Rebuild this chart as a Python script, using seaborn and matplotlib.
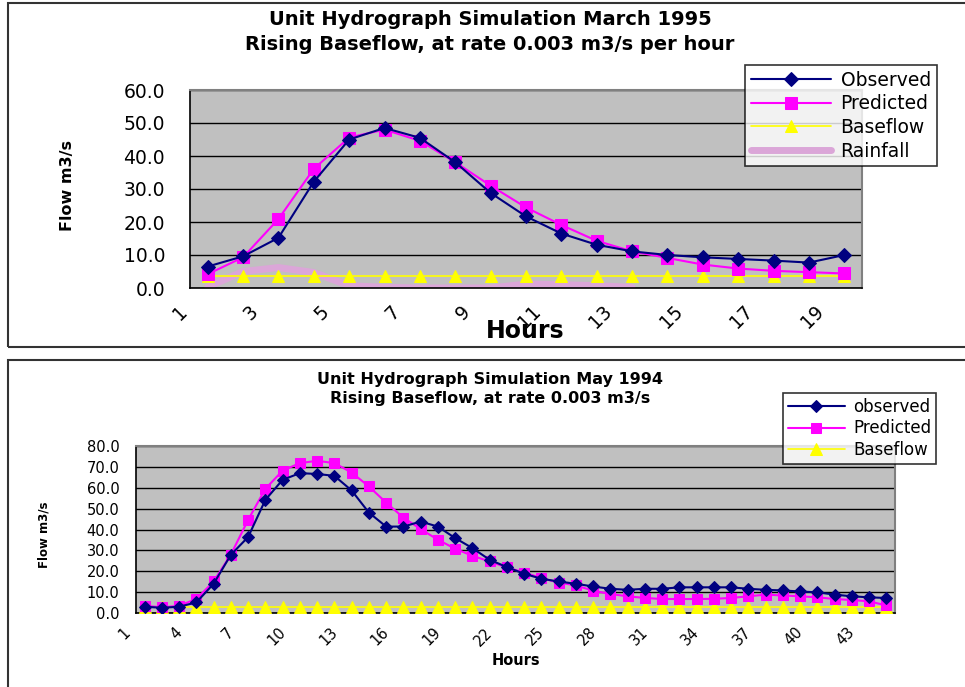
import numpy as np
import pandas as pd
import matplotlib
matplotlib.use("Agg")
import matplotlib.pyplot as plt
import matplotlib.transforms as mtransforms
import seaborn as sns
from matplotlib.patches import Rectangle
from matplotlib.ticker import FixedLocator

# March 1995 data (hours 1-19)
mar_hours = list(range(1, 20))
mar_observed = [6.5, 9.6, 15.2, 32.2, 45.0, 48.5, 45.5, 38.1, 28.8, 21.7,
                16.5, 13.1, 11.1, 10.0, 9.3, 8.8, 8.3, 7.7, 10.0]
mar_predicted = [4.2, 9.3, 20.9, 36.1, 45.6, 48.0, 44.6, 38.1, 31.0, 24.4,
                 19.1, 14.3, 11.1, 9.1, 7.1, 5.9, 5.2, 4.8, 4.4]
mar_baseflow = [3.5, 3.5, 3.5, 3.5, 3.5, 3.5, 3.5, 3.5, 3.5, 3.5,
                3.5, 3.5, 3.5, 3.5, 3.5, 3.5, 3.5, 3.5, 3.5]
mar_rainfall = [0.3, 5.0, 6.2, 4.7, 0.7, 0.2, 0.0, 0.0, 0.0, 1.2,
                1.0, 0.7, 0.2, np.nan, np.nan, np.nan, np.nan, np.nan, np.nan]
mar_xlabels = ["1", "3", "5", "7", "9", "11", "13", "15", "17", "19"]
mar_yticks = [0, 10, 20, 30, 40, 50, 60]

# May 1994 data (hours 1-44)
may_hours = list(range(1, 45))
may_observed = [3.0, 2.5, 3.0, 5.1, 14.0, 27.9, 36.4, 54.2, 63.8, 67.0,
                66.6, 65.7, 58.7, 48.1, 41.4, 41.4, 43.8, 41.4, 35.9, 31.1,
                25.5, 22.0, 18.8, 16.4, 15.1, 14.0, 12.7, 11.6, 11.1, 11.6,
                11.6, 12.3, 12.3, 12.3, 12.3, 11.6, 11.1, 10.8, 10.3, 9.9,
                8.8, 8.0, 7.5, 7.2]
may_predicted = [3.5, 2.7, 3.5, 6.7, 15.1, 28.0, 44.6, 59.5, 68.2, 71.8,
                 72.9, 71.8, 67.3, 60.6, 52.9, 45.7, 40.2, 35.1, 30.8, 27.4,
                 24.7, 21.8, 19.4, 16.7, 14.6, 13.2, 10.7, 9.1, 8.0, 7.2,
                 6.7, 6.7, 6.7, 6.8, 7.2, 8.0, 8.8, 8.4, 8.0, 7.5,
                 6.7, 6.2, 5.6, 3.6]
may_baseflow = [2.9] * 44
may_xlabels = ["1", "4", "7", "10", "13", "16", "19", "22", "25", "28",
               "31", "34", "37", "40", "43"]
may_yticks = [0, 10, 20, 30, 40, 50, 60, 70, 80]

sns.set_style("white")
plt.rcParams["font.family"] = ["DejaVu Sans"]
plt.rcParams["text.color"] = "black"
plt.rcParams["axes.labelcolor"] = "black"
plt.rcParams["xtick.color"] = "black"
plt.rcParams["ytick.color"] = "black"

W, H = 965, 687
fig = plt.figure(figsize=(W / 100, H / 100), dpi=100)


def px_axes(left, top, right, bottom):
    return fig.add_axes([left / W, 1 - bottom / H, (right - left) / W, (bottom - top) / H])


# chart frames
fig.patches.append(Rectangle((8 / W, 1 - 347 / H), 1.0, (347 - 3) / H,
                             transform=fig.transFigure, fill=False,
                             edgecolor="#333333", lw=1.5))
fig.patches.append(Rectangle((8 / W, -0.05), 1.0, 1 - 360 / H + 0.05,
                             transform=fig.transFigure, fill=False,
                             edgecolor="#333333", lw=1.5))


def style_axes(ax, n, yticks, labels, step, fs, ticklen, ypad, xshift):
    ax.set_facecolor("#c0c0c0")
    ax.set_yticks(yticks)
    ax.set_yticklabels([f"{v:.1f}" for v in yticks], fontsize=fs)
    ax.set_xticks(list(range(1, n + 1, step)))
    ax.set_xticklabels(labels, fontsize=fs, rotation=45, ha="right",
                       va="top", rotation_mode="anchor")
    ax.xaxis.set_minor_locator(FixedLocator(np.arange(0.5, n + 1, 1.0)))
    ax.set_xlim(0.5, n + 0.5)
    ax.set_ylim(yticks[0], yticks[-1])
    ax.tick_params(axis="x", which="major", length=0, pad=ticklen + 3)
    ax.tick_params(axis="x", which="minor", length=ticklen, width=1, color="black", direction="out")
    ax.tick_params(axis="y", length=ticklen, width=1, color="black", direction="out", pad=ypad)
    ax.yaxis.grid(True, color="black", lw=1)
    ax.set_axisbelow(True)
    for side in ["top", "right"]:
        ax.spines[side].set_color("#808080")
        ax.spines[side].set_linewidth(1.5)
    for side in ["left", "bottom"]:
        ax.spines[side].set_color("black")
        ax.spines[side].set_linewidth(1.2)
    # rotated labels sit a little left of their category, as in Excel
    shift = mtransforms.ScaledTranslation(xshift / 100, 0, fig.dpi_scale_trans)
    for lab in ax.get_xticklabels():
        lab.set_transform(lab.get_transform() + shift)


# ---- top chart: March 1995 ----
ax1 = px_axes(190, 90, 862, 288)
mar = pd.DataFrame({"hour": mar_hours, "obs": mar_observed, "pred": mar_predicted,
                    "base": mar_baseflow, "rain": mar_rainfall})
sns.lineplot(data=mar, x="hour", y="obs", ax=ax1, color="#000080", lw=1.5,
             marker="D", markersize=7, markeredgecolor="#000080", label="Observed", zorder=5)
sns.lineplot(data=mar, x="hour", y="pred", ax=ax1, color="#ff00ff", lw=1.5,
             marker="s", markersize=8, markeredgecolor="#ff00ff", label="Predicted", zorder=4)
sns.lineplot(data=mar, x="hour", y="base", ax=ax1, color="#ffff00", lw=1.2,
             marker="^", markersize=9, markeredgecolor="#ffff00", label="Baseflow", zorder=3)
sns.lineplot(data=mar.dropna(), x="hour", y="rain", ax=ax1, color="#dba6d8", lw=5,
             label="Rainfall", zorder=2)
style_axes(ax1, 19, mar_yticks, mar_xlabels, 2, 13.5, 7, 11, -30)
ax1.set_xlabel("Hours", fontsize=17, fontweight="bold")
ax1.xaxis.set_label_coords(0.4985, -0.155)
ax1.set_ylabel("Flow m3/s", fontsize=11.5, fontweight="bold")
ax1.yaxis.set_label_coords(-0.171, 0.52)
fig.text(490 / W, 1 - 32 / H, "Unit Hydrograph Simulation March 1995\nRising Baseflow, at rate 0.003 m3/s per hour",
         ha="center", va="center", fontsize=14, fontweight="bold", linespacing=1.4)
leg1 = ax1.legend(loc="upper left", bbox_to_anchor=(745 / W, 1 - 65 / H),
                  bbox_transform=fig.transFigure, fontsize=13.5, frameon=True,
                  fancybox=False, edgecolor="black", borderpad=0.3, borderaxespad=0,
                  labelspacing=0.25, handlelength=4.3, handletextpad=0.5)
leg1.get_frame().set_linewidth(1.2)

# ---- bottom chart: May 1994 ----
ax2 = px_axes(136, 446, 895, 613)
may = pd.DataFrame({"hour": may_hours, "obs": may_observed, "pred": may_predicted,
                    "base": may_baseflow})
sns.lineplot(data=may, x="hour", y="obs", ax=ax2, color="#000080", lw=1.5,
             marker="D", markersize=6, markeredgecolor="#000080", label="observed", zorder=5)
sns.lineplot(data=may, x="hour", y="pred", ax=ax2, color="#ff00ff", lw=1.5,
             marker="s", markersize=6.5, markeredgecolor="#ff00ff", label="Predicted", zorder=4)
sns.lineplot(data=may, x="hour", y="base", ax=ax2, color="#ffff00", lw=1.2,
             marker="^", markersize=8, markeredgecolor="#ffff00", label="Baseflow", zorder=3)
style_axes(ax2, 44, may_yticks, may_xlabels, 3, 10.5, 5.5, 6.5, -22)
ax2.set_xlabel("Hours", fontsize=10.5, fontweight="bold")
ax2.xaxis.set_label_coords(0.5, -0.24)
ax2.set_ylabel("Flow m3/s", fontsize=8.5, fontweight="bold")
ax2.yaxis.set_label_coords(-0.112, 0.467)
fig.text(490 / W, 1 - 389 / H, "Unit Hydrograph Simulation May 1994\nRising Baseflow, at rate 0.003 m3/s",
         ha="center", va="center", fontsize=11.5, fontweight="bold", linespacing=1.3)
leg2 = ax2.legend(loc="upper left", bbox_to_anchor=(783 / W, 1 - 393 / H),
                  bbox_transform=fig.transFigure, fontsize=12, frameon=True,
                  fancybox=False, edgecolor="black", borderpad=0.3, borderaxespad=0,
                  labelspacing=0.2, handlelength=3.4, handletextpad=0.5)
leg2.get_frame().set_linewidth(1.2)

fig.savefig("out.png", dpi=100)
plt.close(fig)
